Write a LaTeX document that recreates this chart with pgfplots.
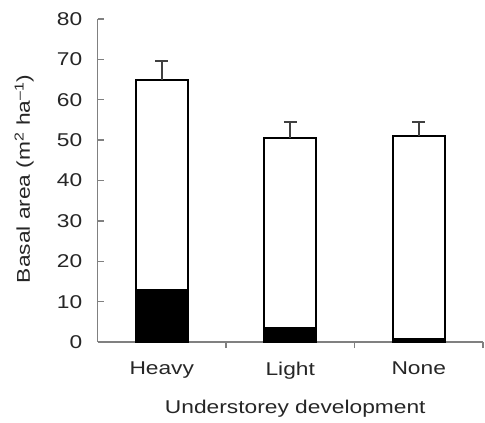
\documentclass[border=0pt]{standalone}
\usepackage{fontspec}
\setmainfont{Liberation Sans}[FakeStretch=1.23]
\usepackage{pgfplots}
\pgfplotsset{compat=1.18}
\begin{document}
\begin{tikzpicture}[x=1bp,y=1bp]
\useasboundingbox (0,0) rectangle (485,422);
\begin{axis}[
  at={(97.5bp,80bp)}, anchor=south west,
  scale only axis, width=385.5bp, height=323bp,
  xmin=-0.5, xmax=2.5, ymin=0, ymax=80,
  axis lines*=left,
  axis line style={black!50, line width=1.3bp},
  tick style={black!50, line width=1.3bp},
  tick align=inside, major tick length=6bp,
  ytick={0,10,...,80},
  xtick={0.5,1.5,2.5}, xticklabels={,,},
  extra x ticks={0,1,2}, extra x tick labels={Heavy,Light,None},
  extra x tick style={major tick length=0pt},
  /pgf/number format/assume math mode=true,
  every tick label/.append style={font=\fontsize{18.5bp}{22bp}\selectfont, text=black!85},
  yticklabel style={inner sep=0pt, xshift=-15bp},
  xticklabel style={inner sep=0pt, yshift=-20bp},
  label style={font=\fontsize{18.5bp}{22bp}\selectfont, text=black!85},
  xlabel={Understorey development},
  xlabel style={at={(axis description cs:0.513,-0.18)}, anchor=north, inner sep=0pt},
  ylabel={Basal area (m\textsuperscript{2} ha\textsuperscript{\textendash1})},
  ylabel style={at={(axis description cs:-0.19,0.505)}, anchor=center, inner sep=0pt},
  ybar, bar width=52bp,
]
\addplot[fill=white, draw=black, line width=2bp, bar shift=0pt,
  error bars/.cd, y dir=plus, y explicit,
  error bar style={black!75, line width=2bp},
  error mark options={rotate=90, black!75, line width=2bp, mark size=6.5bp}]
  coordinates {(0,65) +- (0,4.5) (1,50.5) +- (0,4) (2,51) +- (0,3.5)};
\addplot[fill=black, draw=black, line width=2bp, bar shift=0pt]
  coordinates {(0,13) (1,3.5) (2,0.7)};
\end{axis}
\end{tikzpicture}
\end{document}
